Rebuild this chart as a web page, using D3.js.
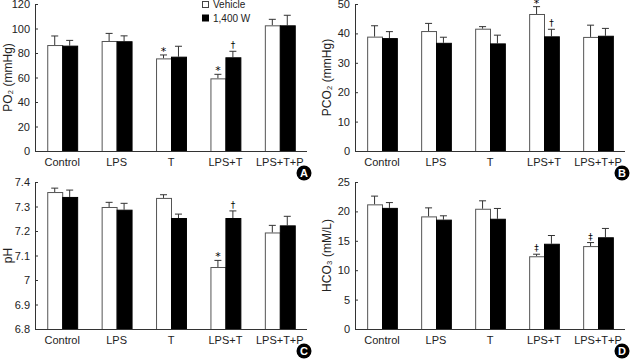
<!DOCTYPE html>
<html>
<head>
<meta charset="utf-8">
<script src="https://cdn.jsdelivr.net/npm/d3@7"></script>
<style>
  body { margin: 0; background: #fff; }
  svg { display: block; }
  text { font-family: "Liberation Sans Narrow", "Arial Narrow", "Liberation Sans", Arial, sans-serif; fill: #222; }
  .domain { stroke: #333; }
  .tick line { stroke: #333; }
  .mark { font-family: "DejaVu Sans", sans-serif; fill: #000; }
</style>
</head>
<body>
<svg width="631" height="360"></svg>
<script>
// groups + series
const groups = ["Control", "LPS", "T", "LPS+T", "LPS+T+P"];
const series = ["Vehicle", "1,400 W"];

// A: PO2 (mmHg)
const po2Vehicle = [86.5, 89.8, 75.6, 59.3, 102.6];
const po2VehicleErr = [7.4, 6.2, 2.8, 3.3, 4.9];
const po2W = [86, 89.6, 77, 76.5, 102.6];
const po2WErr = [4.3, 4.4, 8.5, 4.9, 8.2];
const po2Ticks = [0, 20, 40, 60, 80, 100, 120];

// B: PCO2 (mmHg)
const pco2Vehicle = [38.9, 40.8, 41.6, 46.6, 38.8];
const pco2VehicleErr = [3.7, 2.6, 0.7, 2.5, 4.0];
const pco2W = [38.4, 36.8, 36.6, 39.0, 39.2];
const pco2WErr = [2.2, 1.9, 2.8, 2.4, 2.5];
const pco2Ticks = [0, 10, 20, 30, 40, 50];

// C: pH
const phVehicle = [7.359, 7.298, 7.335, 7.053, 7.194];
const phVehicleErr = [0.016, 0.019, 0.013, 0.027, 0.029];
const phW = [7.339, 7.287, 7.253, 7.253, 7.223];
const phWErr = [0.028, 0.026, 0.016, 0.029, 0.037];
const phTicks = [6.8, 6.9, 7.0, 7.1, 7.2, 7.3, 7.4];

// D: HCO3 (mM/L)
const hco3Vehicle = [21.2, 19.15, 20.45, 12.37, 14.1];
const hco3VehicleErr = [1.4, 1.45, 1.35, 0.35, 0.6];
const hco3W = [20.6, 18.6, 18.75, 14.5, 15.6];
const hco3WErr = [0.9, 0.65, 1.75, 1.4, 1.5];
const hco3Ticks = [0, 5, 10, 15, 20, 25];

// significance marks: [group index, series index, symbol]
const po2Marks = [[2, 0, "*"], [3, 0, "*"], [3, 1, "†"]];
const pco2Marks = [[3, 0, "*"], [3, 1, "†"]];
const phMarks = [[3, 0, "*"], [3, 1, "†"]];
const hco3Marks = [[3, 0, "‡"], [4, 0, "‡"]];

const svg = d3.select("svg");

const panels = [
  { letter: "A", title: "PO₂ (mmHg)", vals: [po2Vehicle, po2W], errs: [po2VehicleErr, po2WErr],
    ticks: po2Ticks, marks: po2Marks, x: [35, 307], y: [151, 4], titleX: 8 },
  { letter: "B", title: "PCO₂ (mmHg)", vals: [pco2Vehicle, pco2W], errs: [pco2VehicleErr, pco2WErr],
    ticks: pco2Ticks, marks: pco2Marks, x: [355, 625], y: [151, 4], titleX: 327 },
  { letter: "C", title: "pH", vals: [phVehicle, phW], errs: [phVehicleErr, phWErr],
    ticks: phTicks, marks: phMarks, x: [35, 307], y: [329, 182], titleX: 8 },
  { letter: "D", title: "HCO₃ (mM/L)", vals: [hco3Vehicle, hco3W], errs: [hco3VehicleErr, hco3WErr],
    ticks: hco3Ticks, marks: hco3Marks, x: [355, 625], y: [329, 182], titleX: 327 }
];

panels.forEach(p => {
  const g = svg.append("g");
  const x0 = d3.scaleBand().domain(groups).range(p.x).paddingInner(0.45).paddingOuter(0.225);
  const x1 = d3.scaleBand().domain(series).range([0, x0.bandwidth()]);
  const y = d3.scaleLinear().domain(d3.extent(p.ticks)).range(p.y);

  const rows = [];
  groups.forEach((grp, i) => series.forEach((s, j) => {
    rows.push({ grp, s, j, v: p.vals[j][i], e: p.errs[j][i] });
  }));

  // error bars (drawn first, bar covers the lower end)
  const eb = g.selectAll(".err").data(rows).enter().append("g").attr("class", "err")
    .attr("stroke", "#333").attr("stroke-width", 1);
  eb.append("line")
    .attr("x1", d => x0(d.grp) + x1(d.s) + x1.bandwidth() / 2)
    .attr("x2", d => x0(d.grp) + x1(d.s) + x1.bandwidth() / 2)
    .attr("y1", d => y(d.v)).attr("y2", d => y(d.v + d.e));
  eb.append("line")
    .attr("x1", d => x0(d.grp) + x1(d.s) + x1.bandwidth() / 2 - 3.5)
    .attr("x2", d => x0(d.grp) + x1(d.s) + x1.bandwidth() / 2 + 3.5)
    .attr("y1", d => y(d.v + d.e)).attr("y2", d => y(d.v + d.e));

  g.selectAll(".bar").data(rows).enter().append("rect").attr("class", "bar")
    .attr("x", d => x0(d.grp) + x1(d.s) + 0.5)
    .attr("width", x1.bandwidth())
    .attr("y", d => y(d.v) + 0.5)
    .attr("height", d => y.range()[0] - y(d.v))
    .attr("fill", d => d.j === 0 ? "#fff" : "#000")
    .attr("stroke", d => d.j === 0 ? "#555" : "#000")
    .attr("stroke-width", 1);

  // marks
  p.marks.forEach(([gi, sj, sym]) => {
    const v = p.vals[sj][gi], e = p.errs[sj][gi];
    g.append("text").attr("class", "mark")
      .attr("x", x0(groups[gi]) + x1(series[sj]) + x1.bandwidth() / 2)
      .attr("y", y(v + e) - (sym === "*" ? 0 : 3))
      .attr("text-anchor", "middle")
      .attr("font-size", sym === "*" ? 11 : 9)
      .text(sym);
  });

  // axes
  const yAxis = d3.axisLeft(y).tickValues(p.ticks).tickSize(-3).tickPadding(5)
    .tickFormat(d => String(+d.toFixed(1)));
  g.append("g").attr("transform", `translate(${p.x[0]},0)`).call(yAxis)
    .call(a => a.selectAll("text").attr("font-size", 11));

  g.append("line")
    .attr("x1", p.x[0]).attr("x2", p.x[1])
    .attr("y1", y.range()[0] + 0.5).attr("y2", y.range()[0] + 0.5)
    .attr("stroke", "#333");

  g.selectAll(".xl").data(groups).enter().append("text")
    .attr("x", d => x0(d) + x0.bandwidth() / 2)
    .attr("y", y.range()[0] + 15)
    .attr("text-anchor", "middle")
    .attr("font-size", 11)
    .text(d => d);

  // y title
  const cy = (p.y[0] + p.y[1]) / 2;
  g.append("text")
    .attr("transform", `translate(${p.titleX + 4},${cy}) rotate(-90)`)
    .attr("text-anchor", "middle")
    .attr("font-size", 12)
    .text(p.title);

  // panel letter
  const lx = p.x[1] - 3, ly = y.range()[0] + 22;
  g.append("circle").attr("cx", lx).attr("cy", ly).attr("r", 7.5).attr("fill", "#000");
  g.append("text").attr("x", lx).attr("y", ly + 4)
    .attr("text-anchor", "middle").attr("font-size", 11).attr("font-weight", "bold")
    .style("fill", "#fff").style("font-family", "Liberation Sans, Arial, sans-serif")
    .text(p.letter);
});

// legend
const legend = svg.append("g").attr("transform", "translate(202,1)");
series.forEach((s, i) => {
  legend.append("rect").attr("x", 0.5).attr("y", i * 13.5 + 0.5).attr("width", 6).attr("height", 6)
    .attr("fill", i === 0 ? "#fff" : "#000").attr("stroke", i === 0 ? "#444" : "#000");
  legend.append("text").attr("x", 11).attr("y", i * 13.5 + 7).attr("font-size", 10).text(s);
});
</script>
</body>
</html>
